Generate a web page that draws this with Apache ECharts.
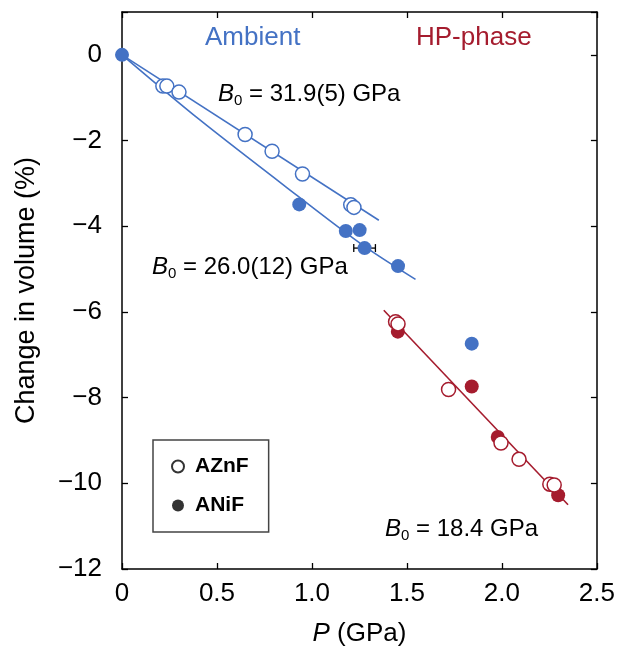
<!DOCTYPE html>
<html>
<head>
<meta charset="utf-8">
<script src="https://cdn.jsdelivr.net/npm/echarts@6/dist/echarts.min.js"></script>
<style>
  html, body { margin: 0; padding: 0; background: #fff; }
  #chart { width: 618px; height: 652px; }
</style>
</head>
<body>
<div id="chart"></div>
<script>
// values
const azAmbP = [0.215, 0.236, 0.30, 0.648, 0.79, 0.95, 1.204, 1.221]
const azAmbV = [-0.73, -0.73, -0.87, -1.86, -2.25, -2.78, -3.50, -3.56]
const niAmbP = [0, 0.933, 1.178, 1.251, 1.277, 1.453, 1.841]
const niAmbV = [0, -3.49, -4.11, -4.09, -4.51, -4.93, -6.74]
const azHpP = [1.44, 1.453, 1.719, 1.995, 2.09, 2.252, 2.275]
const azHpV = [-6.23, -6.28, -7.81, -9.06, -9.44, -10.02, -10.04]
const niHpP = [1.452, 1.841, 1.978, 2.296]
const niHpV = [-6.46, -7.74, -8.92, -10.28]

// fitted curves
const fitAzAmbP = [0, 1.352]
const fitAzAmbV = [0, -3.86]
const fitNiAmbP = [0, 0.41, 0.933, 1.277, 1.545]
const fitNiAmbV = [0, -1.52, -3.32, -4.47, -5.24]
const fitHpP = [1.378, 2.348]
const fitHpV = [-5.96, -10.50]

// horizontal error bar
const errP = [1.277]
const errV = [-4.51]
const errDP = [0.057]

const legendNames = ['AZnF', 'ANiF']

const BLUE = '#4472c4'
const RED = '#a51c2e'
const FONT = 'Liberation Sans, Arial, sans-serif'

const zip = (xs, ys) => xs.map((x, i) => [x, ys[i]])
const minus = v => (v < 0 ? '\u2212' + Math.abs(v) : String(v))

function openSeries(name, p, v, color) {
  return {
    name, type: 'scatter', symbol: 'circle', symbolSize: 14, z: 4,
    itemStyle: { color: '#fff', borderColor: color, borderWidth: 1.5, opacity: 1 },
    data: zip(p, v),
  }
}
function filledSeries(name, p, v, color) {
  return {
    name, type: 'scatter', symbol: 'circle', symbolSize: 14, z: 3,
    itemStyle: { color: color, opacity: 1 },
    data: zip(p, v),
  }
}
function fitSeries(p, v, color, smooth) {
  return {
    type: 'line', showSymbol: false, silent: true, z: 2, smooth: smooth || false,
    lineStyle: { color, width: 1.6 },
    data: zip(p, v),
  }
}

const axisCommon = {
  type: 'value',
  axisLine: { show: true, onZero: false, lineStyle: { color: '#000', width: 1.5 } },
  axisTick: { show: true, inside: true, length: 6, lineStyle: { color: '#000', width: 1.3 } },
  splitLine: { show: false },
}

const subText = {
  i: { fontStyle: 'italic', fontSize: 24, fontFamily: FONT, fill: '#000' },
  s: { fontSize: 15, fontFamily: FONT, fill: '#000', padding: [14, 0, 0, 0] },
  n: { fontSize: 24, fontFamily: FONT, fill: '#000' },
}

const chart = echarts.init(document.getElementById('chart'))
chart.setOption({
  animation: false,
  textStyle: { fontFamily: FONT },
  grid: { left: 122, right: 19, top: 12, bottom: 74 },
  xAxis: [
    Object.assign({}, axisCommon, {
      min: 0, max: 2.5, interval: 0.5,
      axisLabel: {
        color: '#000', fontSize: 26, margin: 12, fontFamily: FONT,
        formatter: v => (v === 0 ? '0' : v.toFixed(1)),
      },
      name: '{i|P} (GPa)', nameLocation: 'middle', nameGap: 52,
      nameTextStyle: {
        color: '#000', fontSize: 26, fontFamily: FONT,
        rich: { i: { fontStyle: 'italic', fontSize: 26, fontFamily: FONT, color: '#000' } },
      },
    }),
    Object.assign({}, axisCommon, {
      position: 'top', min: 0, max: 2.5, interval: 0.5,
      axisLabel: { show: false },
    }),
  ],
  yAxis: [
    Object.assign({}, axisCommon, {
      min: -12, max: 1, interval: 2,
      axisLabel: {
        color: '#000', fontSize: 26, margin: 20, fontFamily: FONT,
        formatter: v => (v > 0 ? '' : minus(v)),
      },
      name: 'Change in volume (%)', nameLocation: 'middle', nameGap: 82,
      nameTextStyle: { color: '#000', fontSize: 27, fontFamily: FONT },
    }),
    Object.assign({}, axisCommon, {
      position: 'right', min: -12, max: 1, interval: 2,
      axisLabel: { show: false },
    }),
  ],
  legend: {
    orient: 'vertical', left: 153, top: 440,
    padding: [16, 20, 16, 18], itemGap: 18,
    itemWidth: 12, itemHeight: 12,
    borderColor: '#444', borderWidth: 1.5,
    textStyle: { fontSize: 21, fontWeight: 'bold', color: '#000', fontFamily: FONT, padding: [0, 0, 0, 6] },
    data: [
      { name: legendNames[0], icon: 'circle', itemStyle: { color: '#fff', borderColor: '#000', borderWidth: 2 } },
      { name: legendNames[1], icon: 'circle', itemStyle: { color: '#000' } },
    ],
  },
  graphic: [
    { type: 'text', left: 205, top: 25, style: { text: 'Ambient', fill: BLUE, font: '26px ' + FONT } },
    { type: 'text', left: 416, top: 25, style: { text: 'HP-phase', fill: RED, font: '26px ' + FONT } },
    { type: 'text', left: 218, top: 82, style: { text: '{i|B}{s|0}{n| = 31.9(5) GPa}', rich: subText } },
    { type: 'text', left: 152, top: 255, style: { text: '{i|B}{s|0}{n| = 26.0(12) GPa}', rich: subText } },
    { type: 'text', left: 385, top: 517, style: { text: '{i|B}{s|0}{n| = 18.4 GPa}', rich: subText } },
  ],
  series: [
    fitSeries(fitAzAmbP, fitAzAmbV, BLUE),
    fitSeries(fitNiAmbP, fitNiAmbV, BLUE, 0.3),
    fitSeries(fitHpP, fitHpV, RED),
    {
      type: 'custom', z: 2, silent: true,
      data: errP.map((p, i) => [p, errV[i], errDP[i]]),
      renderItem: (params, api) => {
        const c = api.value(0), v = api.value(1), d = api.value(2)
        const a = api.coord([c - d, v]), b = api.coord([c + d, v])
        const lineStyle = { stroke: '#000', lineWidth: 1.3 }
        return {
          type: 'group',
          children: [
            { type: 'line', shape: { x1: a[0], y1: a[1], x2: b[0], y2: b[1] }, style: lineStyle },
            { type: 'line', shape: { x1: a[0], y1: a[1] - 4, x2: a[0], y2: a[1] + 4 }, style: lineStyle },
            { type: 'line', shape: { x1: b[0], y1: b[1] - 4, x2: b[0], y2: b[1] + 4 }, style: lineStyle },
          ],
        }
      },
    },
    filledSeries('ANiF ambient', niAmbP, niAmbV, BLUE),
    openSeries('AZnF ambient', azAmbP, azAmbV, BLUE),
    filledSeries('ANiF HP', niHpP, niHpV, RED),
    openSeries('AZnF HP', azHpP, azHpV, RED),
    // legend-only entries
    { name: legendNames[0], type: 'scatter', data: [], itemStyle: { color: '#fff', borderColor: '#000' } },
    { name: legendNames[1], type: 'scatter', data: [], itemStyle: { color: '#000' } },
  ],
})
</script>
</body>
</html>
